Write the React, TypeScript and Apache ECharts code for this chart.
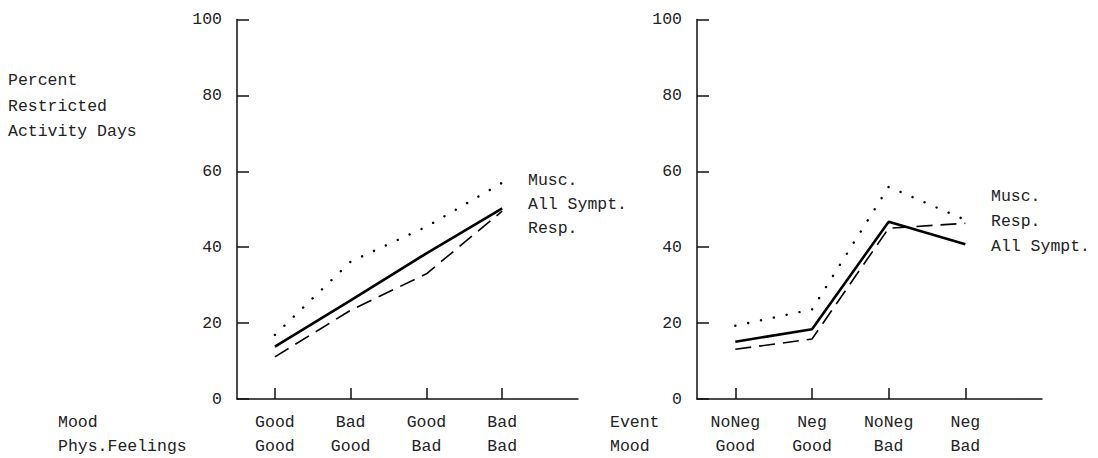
import React, { useEffect, useRef } from "react";
import * as echarts from "echarts";

// Category labels (two rows each)
const leftMood = ["Good", "Bad", "Good", "Bad"];
const leftPhys = ["Good", "Good", "Bad", "Bad"];
const rightEvent = ["NoNeg", "Neg", "NoNeg", "Neg"];
const rightMood = ["Good", "Good", "Bad", "Bad"];

// Percent restricted activity days
const leftAllSympt = [13.8, 26.0, 38.4, 50.2];
const leftMusc = [16.9, 36.2, 45.4, 57.0];
const leftResp = [11.1, 23.4, 33.0, 49.5];

const rightAllSympt = [15.1, 18.4, 46.7, 40.8];
const rightMusc = [19.3, 23.6, 55.9, 47.2];
const rightResp = [13.1, 15.8, 45.0, 46.3];

const yTicks = { min: 0, max: 100, interval: 20 };

const FONT_FAMILY = '"Liberation Mono", "DejaVu Sans Mono", monospace';
const FONT_SIZE = 16.5;
const TEXT_COLOR = "#222";
const LINE_COLOR = "#111";

// half-step slots: categories sit on odd slots
function slots(top: string[], bottom: string[]): string[] {
  const s: string[] = new Array(10).fill("");
  top.forEach((t, i) => {
    s[2 * i + 1] = t + "\n" + bottom[i];
  });
  return s;
}
function pairs(vals: number[]): number[][] {
  return vals.map((v, i) => [2 * i + 1, v]);
}

function xAxisFor(gridIndex: number, data: string[]) {
  return {
    gridIndex,
    type: "category",
    boundaryGap: false,
    data,
    axisLine: { show: true, lineStyle: { color: LINE_COLOR, width: 1.5 } },
    axisTick: {
      show: true,
      inside: true,
      length: 11,
      interval: (i: number) => i % 2 === 1 && i < 8,
      lineStyle: { color: LINE_COLOR, width: 1.5 },
    },
    axisLabel: {
      interval: 0,
      color: TEXT_COLOR,
      fontFamily: FONT_FAMILY,
      fontSize: FONT_SIZE,
      lineHeight: 24,
      margin: 11,
    },
    splitLine: { show: false },
  };
}
function yAxisFor(gridIndex: number) {
  return {
    gridIndex,
    type: "value",
    ...yTicks,
    axisLine: { show: true, lineStyle: { color: LINE_COLOR, width: 1.5 } },
    axisTick: { show: true, inside: true, length: 12, lineStyle: { color: LINE_COLOR, width: 1.5 } },
    axisLabel: { margin: 15, color: TEXT_COLOR, fontFamily: FONT_FAMILY, fontSize: FONT_SIZE },
    splitLine: { show: false },
  };
}
function seriesFor(idx: number, all: number[], musc: number[], resp: number[]) {
  const base = { type: "line", xAxisIndex: idx, yAxisIndex: idx, symbol: "none", silent: true };
  return [
    { ...base, name: "Musc.", data: pairs(musc), lineStyle: { color: "#000", width: 2.4, type: [0.1, 13], cap: "round" } },
    { ...base, name: "Resp.", data: pairs(resp), lineStyle: { color: "#000", width: 1.6, type: [16, 8] } },
    { ...base, name: "All Sympt.", data: pairs(all), lineStyle: { color: "#000", width: 2.6, type: "solid" } },
  ];
}
function txt(text: string, x: number, y: number) {
  return {
    type: "text",
    x,
    y,
    silent: true,
    style: { text, x: 0, y: 0, font: `${FONT_SIZE}px ${FONT_FAMILY}`, fill: TEXT_COLOR, align: "left", verticalAlign: "middle" },
  };
}

export default function App() {
  const ref = useRef<HTMLDivElement>(null);
  useEffect(() => {
    if (!ref.current) return;
    const chart = echarts.init(ref.current, undefined, { renderer: "svg" });
    chart.setOption({
      animation: false,
      backgroundColor: "#fff",
      grid: [
        { left: 237, top: 19.5, width: 341, height: 379.5 },
        { left: 697, top: 19.5, width: 345, height: 379.5 },
      ],
      xAxis: [xAxisFor(0, slots(leftMood, leftPhys)), xAxisFor(1, slots(rightEvent, rightMood))],
      yAxis: [yAxisFor(0), yAxisFor(1)],
      series: [
        ...seriesFor(0, leftAllSympt, leftMusc, leftResp),
        ...seriesFor(1, rightAllSympt, rightMusc, rightResp),
      ],
      graphic: [
        txt("Percent", 8, 80),
        txt("Restricted", 8, 106),
        txt("Activity Days", 8, 131),
        txt("Mood", 58, 422),
        txt("Phys.Feelings", 58, 446),
        txt("Event", 610, 422),
        txt("Mood", 610, 446),
        txt("Musc.", 528, 180),
        txt("All Sympt.", 528, 204),
        txt("Resp.", 528, 228),
        txt("Musc.", 991, 196),
        txt("Resp.", 991, 221),
        txt("All Sympt.", 991, 246),
      ],
    });
    return () => chart.dispose();
  }, []);
  return <div ref={ref} style={{ position: "absolute", left: 0, top: 0, width: 1098, height: 458 }} />;
}
